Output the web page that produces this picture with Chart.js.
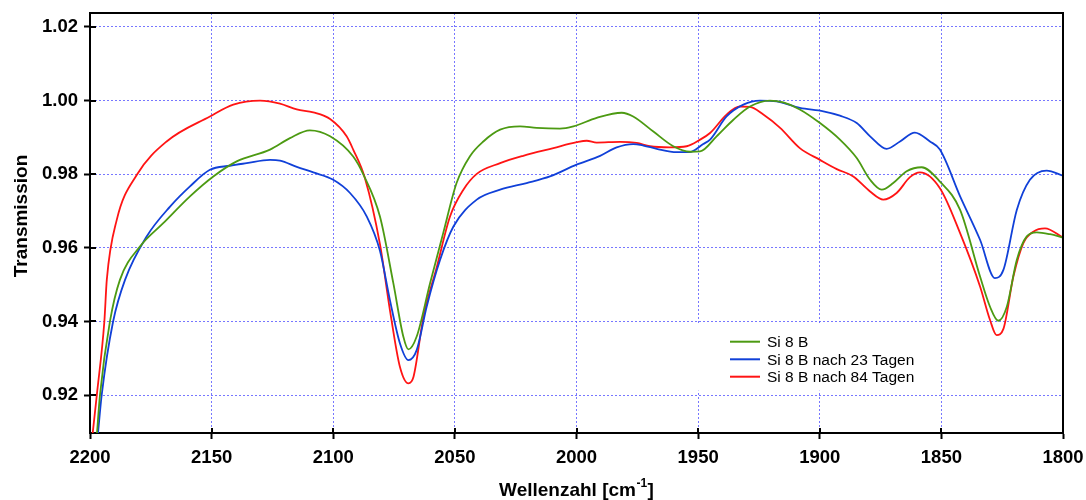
<!DOCTYPE html>
<html>
<head>
<meta charset="utf-8">
<script src="https://cdn.jsdelivr.net/npm/chart.js@4.4.1/dist/chart.umd.min.js"></script>
<style>
html,body{margin:0;padding:0;background:#fff;}
#wrap{width:1086px;height:500px;position:relative;}
</style>
</head>
<body>
<div id="wrap"><canvas id="c" width="1086" height="500"></canvas></div>
<script>
// ---- tick labels ----
const xTicks = [2200, 2150, 2100, 2050, 2000, 1950, 1900, 1850, 1800];
const yTicks = [0.92, 0.94, 0.96, 0.98, 1.00, 1.02];

// ---- series labels ----
const seriesNames = ['Si 8 B', 'Si 8 B nach 23 Tagen', 'Si 8 B nach 84 Tagen'];

// ---- Si 8 B (green) ----
const wnGreen = [2197.2, 2195.9, 2191.8, 2187.7, 2179.4, 2169.9, 2158.9, 2149.3, 2139.7, 2126.0, 2117.8, 2109.6, 2101.3, 2091.8, 2087.6, 2080.8, 2075.3, 2071.2, 2069.1, 2065.7, 2060.2, 2054.8, 2049.3, 2043.8, 2038.3, 2031.4, 2023.2, 2016.4, 2006.8, 2001.3, 1991.7, 1981.4, 1976.7, 1968.4, 1960.2, 1953.3, 1949.2, 1942.4, 1935.5, 1928.7, 1920.5, 1915.0, 1908.2, 1899.9, 1891.7, 1884.8, 1879.3, 1874.5, 1869.8, 1864.3, 1858.1, 1850.6, 1842.3, 1834.1, 1830.0, 1826.6, 1823.1, 1819.0, 1814.9, 1810.8, 1805.3, 1800.0];
const tGreen  = [0.909, 0.920, 0.940, 0.9513, 0.9604, 0.9667, 0.9740, 0.9794, 0.9835, 0.9867, 0.9898, 0.9919, 0.9903, 0.9848, 0.9799, 0.9685, 0.9504, 0.9359, 0.9324, 0.9359, 0.9504, 0.9640, 0.9776, 0.9849, 0.9889, 0.9921, 0.9930, 0.9926, 0.9924, 0.9930, 0.9953, 0.9967, 0.9957, 0.9916, 0.9876, 0.9861, 0.9862, 0.9903, 0.9948, 0.9984, 1.0000, 0.9995, 0.9976, 0.9939, 0.9894, 0.9844, 0.9785, 0.9758, 0.9776, 0.9808, 0.9819, 0.9780, 0.9703, 0.9522, 0.9440, 0.9402, 0.9440, 0.9567, 0.9631, 0.9642, 0.9637, 0.9628];

// ---- Si 8 B nach 23 Tagen (blue) ----
const wnBlue = [2196.8, 2195.2, 2190.5, 2185.6, 2176.7, 2167.1, 2158.9, 2150.7, 2142.5, 2135.6, 2126.0, 2121.9, 2115.0, 2108.2, 2100.0, 2093.1, 2086.2, 2080.8, 2076.7, 2072.6, 2069.1, 2065.7, 2061.6, 2056.1, 2050.6, 2041.0, 2031.4, 2020.5, 2010.9, 2000.0, 1990.3, 1983.5, 1976.7, 1972.5, 1967.0, 1958.8, 1953.6, 1947.9, 1945.1, 1938.3, 1931.4, 1924.6, 1917.7, 1908.2, 1898.5, 1891.7, 1884.8, 1879.3, 1872.5, 1867.0, 1860.9, 1854.7, 1850.6, 1842.3, 1834.1, 1828.0, 1824.5, 1819.0, 1813.6, 1806.7, 1800.0];
const tBlue  = [0.909, 0.920, 0.940, 0.9513, 0.9631, 0.9712, 0.9767, 0.9812, 0.9823, 0.9830, 0.9839, 0.9837, 0.9820, 0.9805, 0.9785, 0.9749, 0.9685, 0.9592, 0.9458, 0.9341, 0.9295, 0.9322, 0.9440, 0.9567, 0.9658, 0.9731, 0.9758, 0.9776, 0.9794, 0.9826, 0.9850, 0.9873, 0.9882, 0.9878, 0.9869, 0.9860, 0.9860, 0.9882, 0.9894, 0.9957, 0.9989, 1.0000, 0.9998, 0.9980, 0.9971, 0.9959, 0.9939, 0.9903, 0.9869, 0.9889, 0.9913, 0.9889, 0.9867, 0.9740, 0.9622, 0.9518, 0.9540, 0.9703, 0.9785, 0.9810, 0.9796];

// ---- Si 8 B nach 84 Tagen (red) ----
const wnRed = [2199.0, 2197.2, 2194.1, 2193.1, 2189.0, 2180.8, 2168.5, 2150.7, 2141.1, 2130.1, 2121.9, 2115.0, 2108.2, 2101.3, 2094.5, 2091.8, 2087.0, 2080.8, 2076.7, 2072.6, 2069.1, 2067.0, 2062.9, 2057.4, 2052.0, 2046.5, 2041.0, 2031.4, 2021.9, 2009.5, 1999.9, 1995.8, 1991.7, 1982.1, 1975.3, 1969.8, 1961.6, 1954.7, 1949.2, 1945.1, 1938.3, 1932.8, 1928.7, 1923.2, 1916.3, 1908.2, 1899.9, 1893.0, 1886.2, 1879.3, 1873.9, 1868.4, 1862.9, 1858.8, 1850.6, 1842.3, 1834.1, 1830.0, 1827.3, 1824.5, 1820.4, 1816.3, 1812.2, 1807.4, 1800.0];
const tRed  = [0.909, 0.920, 0.940, 0.9513, 0.9676, 0.9798, 0.9889, 0.9957, 0.9989, 1.0000, 0.9992, 0.9976, 0.9968, 0.9950, 0.9903, 0.9867, 0.9790, 0.9610, 0.9431, 0.9277, 0.9232, 0.9250, 0.9413, 0.9549, 0.9685, 0.9758, 0.9801, 0.9830, 0.9850, 0.9871, 0.9887, 0.9891, 0.9886, 0.9888, 0.9885, 0.9876, 0.9873, 0.9876, 0.9894, 0.9912, 0.9962, 0.9984, 0.9983, 0.9962, 0.9926, 0.9871, 0.9839, 0.9814, 0.9794, 0.9753, 0.9731, 0.9749, 0.9792, 0.9805, 0.9762, 0.9640, 0.9495, 0.9404, 0.9363, 0.9380, 0.9522, 0.9613, 0.9644, 0.9653, 0.9628];

const colors = ['#4c9a12', '#1040d8', '#ff1414'];

function pts(xs, ys) { return xs.map((x, i) => ({ x: x, y: ys[i] })); }

const FONT = '"Liberation Sans", Arial, Helvetica, sans-serif';
const GRID = 'rgba(95,95,255,0.85)';

const framePlugin = {
  id: 'frame',
  afterDraw(chart) {
    const ctx = chart.ctx;
    const a = chart.chartArea;
    const xs = chart.scales.x, ys = chart.scales.y;
    ctx.save();
    // top and right frame
    ctx.strokeStyle = '#000';
    ctx.lineWidth = 2;
    ctx.beginPath();
    ctx.moveTo(a.left, a.top);
    ctx.lineTo(a.right, a.top);
    ctx.lineTo(a.right, a.bottom);
    ctx.stroke();
    // inner tick parts
    ctx.lineWidth = 2;
    ctx.beginPath();
    xTicks.forEach(v => {
      const px = Math.round(xs.getPixelForValue(v));
      ctx.moveTo(px, a.bottom);
      ctx.lineTo(px, a.bottom - 5);
    });
    yTicks.forEach(v => {
      const py = Math.round(ys.getPixelForValue(v));
      ctx.moveTo(a.left, py);
      ctx.lineTo(a.left + 6, py);
    });
    ctx.stroke();

    // legend box
    const lx = xs.getPixelForValue(1955.5), rx = xs.getPixelForValue(1851);
    const ty = ys.getPixelForValue(0.9393), by = ys.getPixelForValue(0.9212);
    ctx.fillStyle = '#fff';
    ctx.fillRect(lx, ty, rx - lx, by - ty);
    ctx.font = '15.5px ' + FONT;
    ctx.textBaseline = 'middle';
    ctx.textAlign = 'left';
    const rows = [341.7, 359.3, 376.7];
    chart.data.datasets.forEach((ds, i) => {
      ctx.strokeStyle = ds.borderColor;
      ctx.lineWidth = 2;
      ctx.beginPath();
      ctx.moveTo(730, rows[i]);
      ctx.lineTo(760, rows[i]);
      ctx.stroke();
      ctx.fillStyle = '#000';
      ctx.fillText(ds.label, 767, rows[i] + 1);
    });

    // axis titles
    ctx.fillStyle = '#000';
    ctx.font = 'bold 19px ' + FONT;
    ctx.textBaseline = 'alphabetic';
    // y title
    ctx.save();
    ctx.translate(26.5, 216);
    ctx.rotate(-Math.PI / 2);
    ctx.textAlign = 'center';
    ctx.fillText('Transmission', 0, 0);
    ctx.restore();
    // x title with superscript
    const t1 = 'Wellenzahl [cm', t2 = '-1', t3 = ']';
    ctx.font = 'bold 19px ' + FONT;
    const w1 = ctx.measureText(t1).width, w3 = ctx.measureText(t3).width;
    ctx.font = 'bold 12px ' + FONT;
    const w2 = ctx.measureText(t2).width;
    const total = w1 + w2 + w3 + 1;
    let x0 = (a.left + a.right) / 2 - total / 2;
    const base = 495.5;
    ctx.textAlign = 'left';
    ctx.font = 'bold 19px ' + FONT;
    ctx.fillText(t1, x0, base);
    ctx.font = 'bold 12px ' + FONT;
    ctx.fillText(t2, x0 + w1 + 0.5, base - 9);
    ctx.font = 'bold 19px ' + FONT;
    ctx.fillText(t3, x0 + w1 + w2 + 1, base);
    ctx.restore();
  }
};

const ds = [
  { label: seriesNames[0], data: pts(wnGreen, tGreen), borderColor: colors[0] },
  { label: seriesNames[1], data: pts(wnBlue, tBlue), borderColor: colors[1] },
  { label: seriesNames[2], data: pts(wnRed, tRed), borderColor: colors[2] }
].map(d => Object.assign(d, {
  borderWidth: 1.8,
  pointRadius: 0,
  fill: false,
  cubicInterpolationMode: 'monotone'
}));

new Chart(document.getElementById('c'), {
  type: 'line',
  data: { datasets: ds },
  options: {
    responsive: false,
    animation: false,
    devicePixelRatio: 1,
    layout: { padding: { left: 0, right: 23, top: 13, bottom: 0 } },
    plugins: { legend: { display: false }, tooltip: { enabled: false } },
    scales: {
      x: {
        type: 'linear',
        reverse: true,
        min: 1800,
        max: 2200,
        afterBuildTicks: s => { s.ticks = xTicks.map(v => ({ value: v })); },
        afterFit: s => { s.height = 67; s.paddingLeft = 0; s.paddingRight = 0; },
        ticks: {
          color: '#000',
          font: { family: FONT, size: 18.5, weight: 'bold' },
          padding: 8,
          maxRotation: 0,
          autoSkip: false,
          callback: v => String(v)
        },
        grid: {
          color: GRID,
          lineWidth: 1,
          drawTicks: true,
          tickLength: 6,
          tickColor: '#000',
          tickWidth: 2
        },
        border: { display: true, color: '#000', width: 2, dash: [2, 2] }
      },
      y: {
        type: 'linear',
        min: 0.9097,
        max: 1.0238,
        afterBuildTicks: s => { s.ticks = yTicks.map(v => ({ value: v })); },
        afterFit: s => { s.width = 90; s.paddingTop = 0; s.paddingBottom = 0; },
        ticks: {
          color: '#000',
          font: { family: FONT, size: 18.5, weight: 'bold' },
          padding: 6,
          autoSkip: false,
          callback: v => Number(v).toFixed(2)
        },
        grid: {
          color: GRID,
          lineWidth: 1,
          drawTicks: true,
          tickLength: 6,
          tickColor: '#000',
          tickWidth: 2
        },
        border: { display: true, color: '#000', width: 2, dash: [2, 2] }
      }
    }
  },
  plugins: [framePlugin]
});
</script>
</body>
</html>
